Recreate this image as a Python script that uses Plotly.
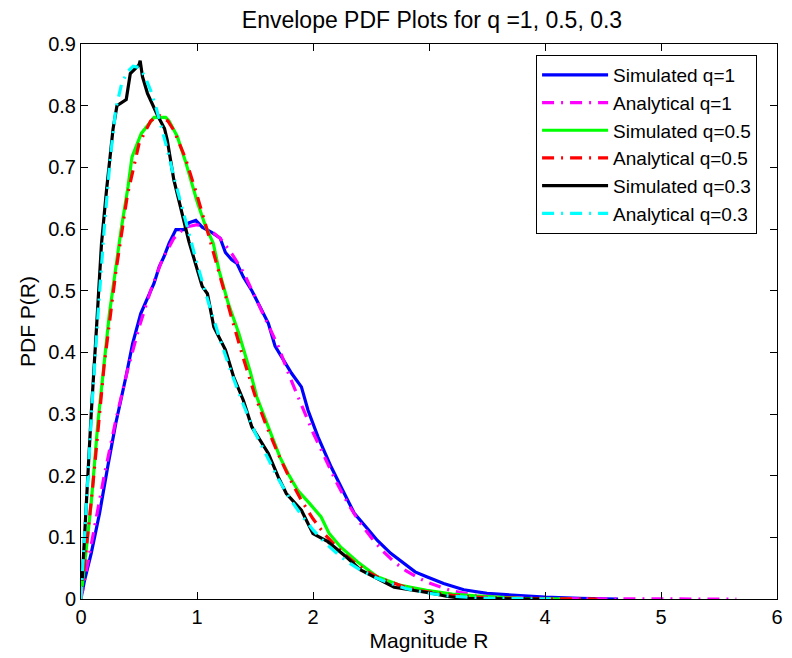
import plotly.graph_objects as go

# ---- data ----
sim1_x = [0.01,0.03,0.088,0.16,0.23,0.30,0.387,0.445,0.515,0.59,0.63,0.675,0.715,0.76,0.818,0.89,0.93,0.99,1.045,1.13,1.20,1.245,1.30,1.345,1.40,1.473,1.53,1.615,1.673,1.73,1.815,1.90,1.957,2.043,2.157,2.27,2.356,2.47,2.555,2.67,2.81,2.88,2.98,3.126,3.30,3.50,3.75,4.0,4.3,4.63]
sim1_y = [0.01,0.03,0.074,0.139,0.214,0.285,0.36,0.414,0.463,0.495,0.512,0.539,0.555,0.577,0.599,0.599,0.61,0.614,0.603,0.594,0.585,0.562,0.55,0.544,0.522,0.50,0.479,0.447,0.41,0.393,0.366,0.344,0.306,0.263,0.214,0.171,0.139,0.114,0.095,0.074,0.055,0.044,0.036,0.025,0.015,0.009,0.006,0.003,0.001,0.0]

ana1_x = [0,0.1,0.2,0.3,0.4,0.5,0.6,0.7,0.8,0.9,1.0,1.1,1.2,1.3,1.4,1.5,1.6,1.7,1.8,1.9,2.0,2.1,2.2,2.3,2.4,2.5,2.6,2.7,2.8,2.9,3.0,3.2,3.4,3.6,3.8,4.0,4.5,5.0,5.65]
ana1_y = [0,0.10,0.20,0.29,0.37,0.44,0.50,0.55,0.585,0.603,0.607,0.60,0.585,0.56,0.53,0.49,0.45,0.41,0.36,0.315,0.27,0.23,0.19,0.155,0.125,0.10,0.078,0.06,0.046,0.035,0.026,0.013,0.006,0.003,0.0015,0.0007,0.0001,0,0]

sim05_x = [0.01,0.031,0.088,0.145,0.245,0.345,0.405,0.44,0.52,0.63,0.73,0.76,0.83,0.90,0.96,1.0,1.074,1.14,1.19,1.27,1.36,1.46,1.515,1.615,1.715,1.786,1.87,1.97,2.07,2.14,2.24,2.385,2.555,2.755,2.98,3.2,3.4,3.8,4.2]
sim05_y = [0.02,0.057,0.155,0.285,0.463,0.598,0.668,0.717,0.755,0.781,0.781,0.775,0.75,0.71,0.67,0.645,0.604,0.577,0.533,0.479,0.431,0.368,0.328,0.279,0.230,0.203,0.176,0.155,0.133,0.106,0.084,0.06,0.036,0.022,0.014,0.008,0.005,0.001,0.0]

ana05_x = [0,0.1,0.2,0.3,0.4,0.5,0.6,0.67,0.75,0.8,0.9,1.0,1.1,1.2,1.3,1.4,1.5,1.6,1.7,1.8,1.9,2.0,2.1,2.2,2.3,2.4,2.5,2.6,2.7,2.8,2.9,3.0,3.2,3.4,3.6,3.8,4.0,4.45]
ana05_y = [0,0.18,0.38,0.53,0.655,0.738,0.775,0.785,0.775,0.76,0.715,0.655,0.59,0.52,0.455,0.39,0.33,0.28,0.235,0.195,0.16,0.13,0.105,0.085,0.068,0.053,0.041,0.032,0.025,0.019,0.014,0.011,0.006,0.003,0.0015,0.0007,0.0003,0]

sim03_x = [0.01,0.037,0.088,0.134,0.177,0.22,0.276,0.31,0.39,0.425,0.50,0.51,0.53,0.573,0.658,0.72,0.744,0.80,0.886,0.93,1.045,1.09,1.145,1.245,1.316,1.40,1.473,1.615,1.70,1.77,1.90,2.0,2.128,2.30,2.41,2.70,3.01,3.16,3.30,3.6,3.95]
sim03_y = [0.03,0.128,0.30,0.441,0.577,0.663,0.762,0.80,0.81,0.852,0.866,0.873,0.847,0.82,0.785,0.763,0.744,0.68,0.614,0.58,0.507,0.495,0.441,0.404,0.36,0.322,0.279,0.236,0.198,0.171,0.144,0.106,0.093,0.066,0.047,0.019,0.0097,0.004,0.001,0.0,0.0]

ana03_x = [0,0.05,0.1,0.15,0.2,0.25,0.3,0.35,0.4,0.45,0.5,0.55,0.6,0.65,0.7,0.75,0.8,0.9,1.0,1.1,1.2,1.3,1.4,1.5,1.6,1.7,1.8,1.9,2.0,2.1,2.2,2.3,2.4,2.5,2.6,2.7,2.8,2.9,3.0,3.2,3.4,3.6,3.8,4.05]
ana03_y = [0,0.17,0.33,0.47,0.60,0.71,0.795,0.835,0.855,0.864,0.862,0.848,0.825,0.795,0.76,0.725,0.685,0.612,0.544,0.48,0.42,0.365,0.315,0.27,0.232,0.195,0.163,0.136,0.112,0.092,0.075,0.06,0.048,0.038,0.03,0.023,0.017,0.013,0.009,0.0045,0.002,0.001,0.0004,0.0]

x_ticks = [0, 1, 2, 3, 4, 5, 6]
y_ticks = [0, 0.1, 0.2, 0.3, 0.4, 0.5, 0.6, 0.7, 0.8, 0.9]

series = [
    ("Simulated q=1", sim1_x, sim1_y, "#0000ff", "solid"),
    ("Analytical q=1", ana1_x, ana1_y, "#ff00ff", "12px,7px,2px,7px"),
    ("Simulated q=0.5", sim05_x, sim05_y, "#00ff00", "solid"),
    ("Analytical q=0.5", ana05_x, ana05_y, "#ff0000", "12px,7px,2px,7px"),
    ("Simulated q=0.3", sim03_x, sim03_y, "#000000", "solid"),
    ("Analytical q=0.3", ana03_x, ana03_y, "#00ffff", "12px,7px,2px,7px"),
]

FONT = "Liberation Sans, Arial, Helvetica, sans-serif"

fig = go.Figure()
for name, xs, ys, col, dash in series:
    fig.add_trace(go.Scatter(x=xs, y=ys, mode="lines", name=name,
                             line=dict(color=col, width=3.2, dash=dash)))

axis_common = dict(showline=True, linecolor="black", linewidth=1, mirror="ticks",
                   ticks="inside", ticklen=7, tickcolor="black", tickwidth=1,
                   showgrid=False, zeroline=False,
                   tickfont=dict(family=FONT, size=20, color="black"))

fig.update_layout(
    width=792, height=658,
    paper_bgcolor="white", plot_bgcolor="white",
    margin=dict(l=81, r=9, t=44, b=59),
    font=dict(family=FONT, size=20, color="black"),
    title=dict(text="Envelope PDF Plots for q =1, 0.5, 0.3", x=(81+783)/2/792, xanchor="center",
               y=1-20/658, yanchor="middle", font=dict(family=FONT, size=23, color="black")),
    xaxis=dict(range=[0, 6], tickvals=x_ticks, ticktext=[str(v) for v in x_ticks],
               title=dict(text="Magnitude R", standoff=6, font=dict(family=FONT, size=21)), **axis_common),
    yaxis=dict(range=[0, 0.9], tickvals=y_ticks, ticktext=[("0" if v == 0 else f"{v:.1f}") for v in y_ticks],
               title=dict(text="PDF P(R)", standoff=6, font=dict(family=FONT, size=21)), **axis_common),
    legend=dict(x=(540-81)/702, y=(599-55)/555, xanchor="left", yanchor="top",
                bgcolor="white", bordercolor="black", borderwidth=1,
                font=dict(family=FONT, size=19, color="black"), itemwidth=66,
                tracegroupgap=0),
    showlegend=True,
)

fig.write_html("out.html", config={"displayModeBar": False},
               post_script="document.body.style.margin='0';document.body.style.padding='0';")
